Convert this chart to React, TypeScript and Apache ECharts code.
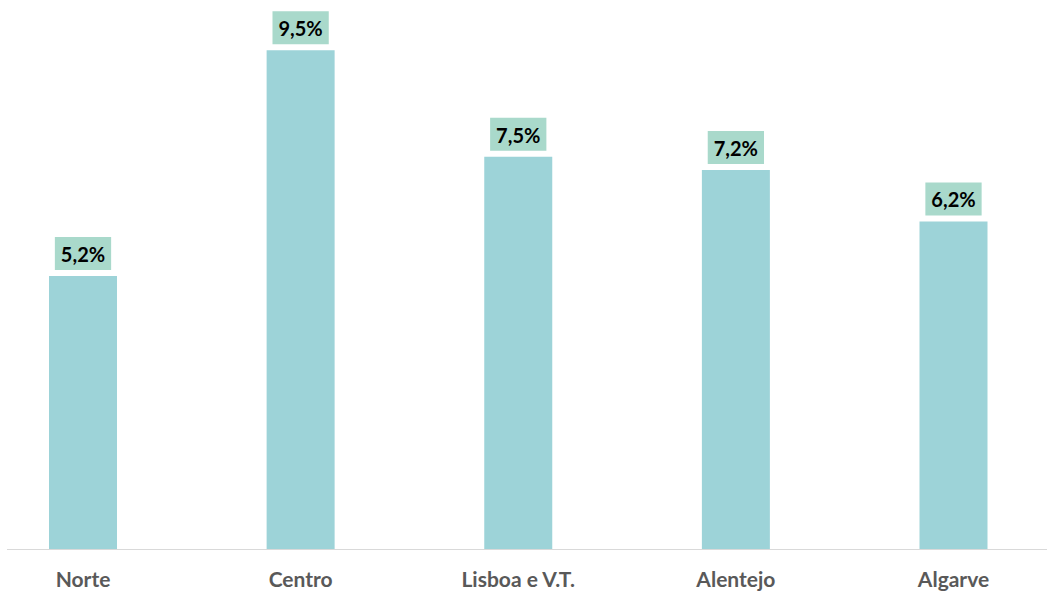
import React, { useEffect, useRef } from "react";
import * as echarts from "echarts";

const categories = ["Norte", "Centro", "Lisboa e V.T.", "Alentejo", "Algarve"];
const values = [5.2, 9.5, 7.47, 7.22, 6.24];

export default function App() {
  const ref = useRef<HTMLDivElement>(null);
  useEffect(() => {
    if (!ref.current) return;
    const chart = echarts.init(ref.current, null, { renderer: "svg" });
    chart.setOption({
      animation: false,
      grid: { left: 83, right: 93.5, top: 24, bottom: 43 },
      xAxis: {
        type: "category",
        data: categories,
        boundaryGap: false,
        axisLine: { show: false },
        axisTick: { show: false },
        axisLabel: {
          color: "#595959",
          fontFamily: "Lato",
          fontWeight: "bold",
          fontSize: 21,
          margin: 19,
        },
      },
      yAxis: {
        type: "value",
        min: 0,
        max: 10,
        show: false,
        splitLine: { show: false },
      },
      graphic: [
        {
          type: "line",
          shape: { x1: 7, y1: 549.5, x2: 1047, y2: 549.5 },
          style: { stroke: "#d9d9d9", lineWidth: 1 },
          z: 10,
        },
      ],
      series: [
        {
          type: "bar",
          data: values,
          barWidth: 68,
          clip: false,
          itemStyle: { color: "#9dd3d8" },
          label: {
            show: true,
            position: "top",
            distance: 6,
            formatter: (p: any) => p.value.toFixed(1).replace(".", ",") + "%",
            backgroundColor: "#a9d9cb",
            color: "#000000",
            fontFamily: "Lato",
            fontWeight: "bold",
            fontSize: 20,
            padding: [7, 6, 6, 6],
          },
        },
      ],
    });
    return () => chart.dispose();
  }, []);
  return (
    <div
      ref={ref}
      style={{ position: "fixed", left: 0, top: 0, width: 1047, height: 592, background: "#fff" }}
    />
  );
}
